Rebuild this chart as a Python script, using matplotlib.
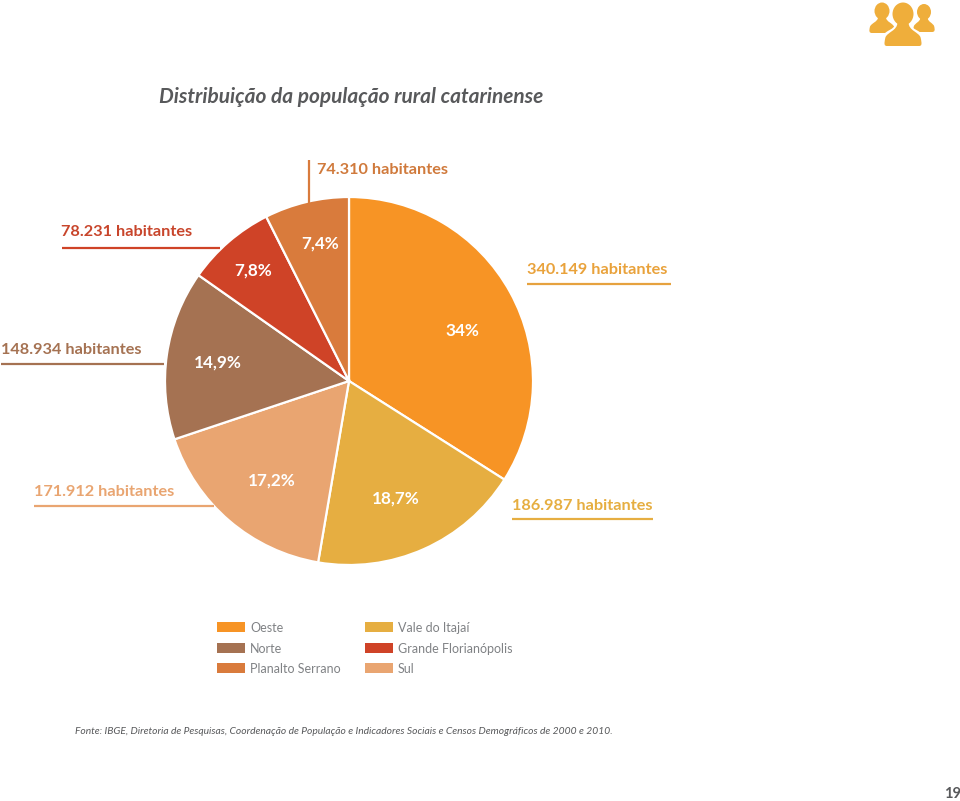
import matplotlib
matplotlib.use('Agg')
import matplotlib.pyplot as plt
from matplotlib.patches import Rectangle, Ellipse, PathPatch
from matplotlib.path import Path

regions = ['Oeste', 'Vale do Itajaí', 'Sul', 'Norte', 'Grande Florianópolis', 'Planalto Serrano']
population = [340149, 186987, 171912, 148934, 78231, 74310]
pop_labels = ['340.149 habitantes', '186.987 habitantes', '171.912 habitantes',
              '148.934 habitantes', '78.231 habitantes', '74.310 habitantes']
pct_labels = ['34%', '18,7%', '17,2%', '14,9%', '7,8%', '7,4%']
colors = ['#F79425', '#E6AE41', '#E9A571', '#A57252', '#CF4327', '#D97B3C']

W, H = 960, 801
FONT = 'Lato'
fig = plt.figure(figsize=(W / 100, H / 100), dpi=100)
ax = fig.add_axes([0, 0, 1, 1])

def Y(p):
    return H - p

ax.pie(population, colors=colors, startangle=90, counterclock=False,
       center=(349, Y(381)), radius=184,
       wedgeprops=dict(edgecolor='white', linewidth=1.6))
ax.set_xlim(0, W)
ax.set_ylim(0, H)
ax.set_aspect('auto')
ax.axis('off')

def T(x, y, s, **kw):
    kw.setdefault('family', FONT)
    kw.setdefault('va', 'center')
    return ax.text(x, Y(y), s, **kw)

def L(xs, ys, c, lw=1.6):
    ax.plot(xs, [Y(v) for v in ys], color=c, lw=lw, solid_capstyle='butt')

T(159, 97, 'Distribuição da população rural catarinense', fontsize=15.05, weight='bold',
  style='italic', color='#58595B')

pop_pos = [(527, 270), (512, 506), (34, 492), (1, 350), (61, 232), (317, 170)]
line_c = ['#E6A23F', '#E6AE41', '#E9A571', '#A57252', '#CF4327', '#D97B3C']
text_c = ['#E9A23B', '#E6AE41', '#E9A571', '#A57252', '#C8452B', '#D07A3C']
for (x, y), s, c in zip(pop_pos, pop_labels, text_c):
    T(x, y, s, fontsize=11.7, weight='bold', color=c)

L([527, 671], [284, 284], line_c[0])
L([512, 653], [519, 519], line_c[1])
L([34, 214], [505.5, 505.5], line_c[2])
L([1, 164], [364, 364], line_c[3])
L([62, 220], [248, 248], line_c[4])
L([309, 309], [160, 203], line_c[5])

pct_pos = [(462, 330.5), (396, 498.5), (272, 480.5), (218, 362.5), (253, 270.5), (320, 243.5)]
for (x, y), s in zip(pct_pos, pct_labels):
    T(x, y, s, fontsize=12.3, weight='bold', color='white', ha='center')

legend_rows = [(217, 627, 0), (217, 648, 3), (217, 668, 5),
               (365, 627, 1), (365, 648, 4), (365, 668, 2)]
for x, y, i in legend_rows:
    ax.add_patch(Rectangle((x, Y(y + 5)), 28, 10, fc=colors[i], ec='none'))
    T(x + 33, y + 1, regions[i], fontsize=9.0, color='#808285')

T(75, 732, 'Fonte: IBGE, Diretoria de Pesquisas, Coordenação de População e Indicadores Sociais e Censos Demográficos de 2000 e 2010.',
  fontsize=7.4, style='italic', color='#58595B')
T(953, 794, '19', fontsize=10.5, weight='bold', color='#58595B', ha='center')

icon = '#EFAE3B'

def person(cx, head_cy, head_w, head_h, top, bottom, half, fc=icon):
    """Head plus a body with sloped, rounded shoulders (pixel coordinates)."""
    ax.add_patch(Ellipse((cx, Y(head_cy)), head_w, head_h, fc=fc, ec='none'))
    n = head_w * 0.26
    body = [
        (cx - n, head_cy + head_h * 0.35),
        (cx - n, top), (cx - half * 0.85, top + 1), (cx - half * 0.93, top + (bottom - top) * 0.45),
        (cx - half, bottom - 2), (cx - half, bottom), (cx - half + 3, bottom),
        (cx + half - 3, bottom),
        (cx + half, bottom), (cx + half, bottom - 2), (cx + half * 0.93, top + (bottom - top) * 0.45),
        (cx + half * 0.85, top + 1), (cx + n, top), (cx + n, head_cy + head_h * 0.35),
        (cx - n, head_cy + head_h * 0.35),
    ]
    codes = [Path.MOVETO, Path.CURVE4, Path.CURVE4, Path.CURVE4,
             Path.CURVE4, Path.CURVE4, Path.CURVE4,
             Path.LINETO,
             Path.CURVE4, Path.CURVE4, Path.CURVE4,
             Path.CURVE4, Path.CURVE4, Path.CURVE4,
             Path.CLOSEPOLY]
    ax.add_patch(PathPatch(Path([(x, Y(y)) for x, y in body], codes), fc=fc, ec='white' if fc == 'white' else 'none',
                           lw=2.5 if fc == 'white' else 0))

person(882, 11, 15, 17, 22, 33, 13)
person(924, 12, 14, 16, 22, 32, 11)
person(903, 15, 25, 28, 31, 46, 21, fc='white')
person(903, 14, 21, 23, 31, 46, 19)

fig.savefig('out.png', dpi=100, facecolor='white')
